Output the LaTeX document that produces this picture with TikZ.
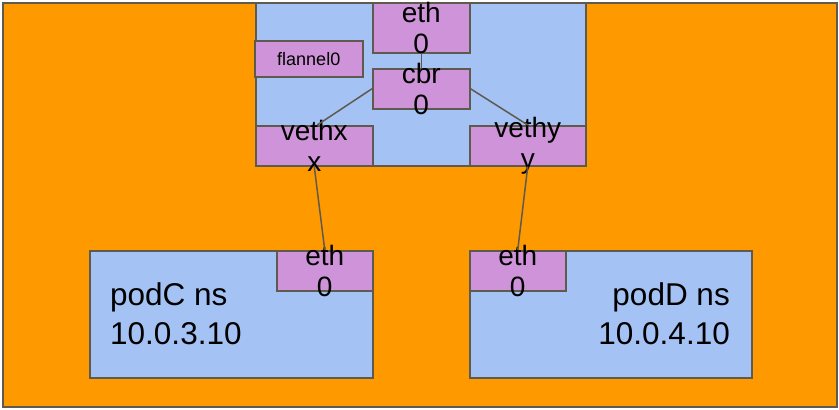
\documentclass[tikz,border=0pt]{standalone}
\usepackage{fontspec}
\setmainfont{Liberation Sans}
\usetikzlibrary{positioning}
\definecolor{hostorange}{HTML}{FF9900}
\definecolor{nsblue}{HTML}{A4C2F4}
\definecolor{portpurple}{HTML}{CE93D8}
\definecolor{edgegray}{HTML}{5E5A4E}
\begin{document}
\begin{tikzpicture}[x=1pt, y=-1pt,
    box/.style={draw=edgegray, line width=1.5pt, rectangle, inner sep=0pt, anchor=north west},
    port/.style={box, fill=portpurple},
    big/.style={font=\fontsize{28}{31.5}\selectfont, align=center},
    nstext/.style={inner sep=0pt, font=\fontsize{31.5}{39}\selectfont},
    wire/.style={draw=edgegray, line width=1.5pt}]
    \useasboundingbox (0,0) rectangle (839,410);

    % node (the host) and the root netns
    \node[box, fill=hostorange, minimum width=834, minimum height=404] (node) at (2,2) {};
    \node[box, fill=nsblue, minimum width=330, minimum height=163] (root) at (255,2) {};

    \node[port, minimum width=97, minimum height=50, label={[big]center:eth\\0}] (eth) at (372,2) {};
    \node[port, minimum width=97, minimum height=40, label={[big]center:cbr\\0}] (cbr) at (372,68) {};
    \node[port, minimum width=108, minimum height=36, label={[font=\fontsize{18}{20}\selectfont]center:flannel0}] (flannel) at (254,40) {};
    \node[port, minimum width=117, minimum height=40, label={[big]center:vethx\\x}] (vethx) at (255,125) {};
    \node[port, minimum width=116, minimum height=40, label={[big]center:vethy\\y}] (vethy) at (469,125) {};

    % pod namespaces
    \node[box, fill=nsblue, minimum width=283, minimum height=127] (podC) at (89,250) {};
    \node[port, minimum width=96, minimum height=40, label={[big]center:eth\\0}] (ethC) at (276,250) {};
    \node[box, fill=nsblue, minimum width=282, minimum height=127] (podD) at (469,250) {};
    \node[port, minimum width=96, minimum height=40, label={[big]center:eth\\0}] (ethD) at (469,250) {};

    \node[nstext, anchor=west, align=left] (podCtxt) at (110,314) {podC ns\\10.0.3.10};
    \node[nstext, anchor=east, align=right] (podDtxt) at (730,314) {podD ns\\10.0.4.10};

    \draw[wire] (eth.south) -- (cbr.north);
    \draw[wire] (cbr.west) -- ([xshift=3]vethx.north);
    \draw[wire] (cbr.east) -- (vethy.north);
    \draw[wire] (vethx.south) -- (ethC.north);
    \draw[wire] (vethy.south) -- (ethD.north);

\end{tikzpicture}
\end{document}
